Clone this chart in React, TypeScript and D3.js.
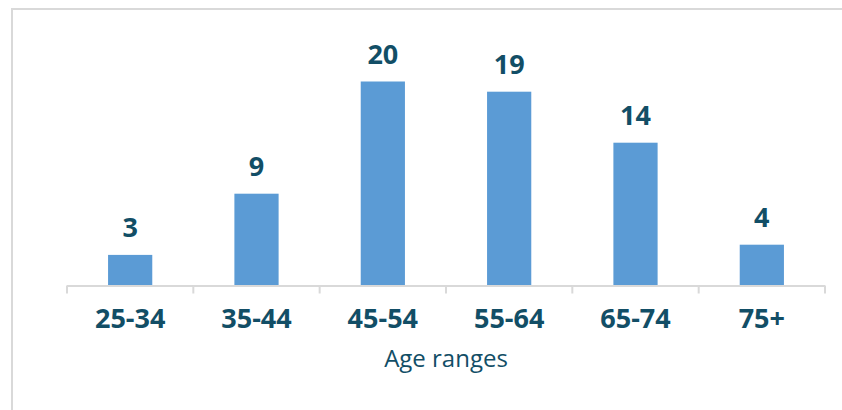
import React from "react";
import * as d3 from "d3";

const categories = ["25-34", "35-44", "45-54", "55-64", "65-74", "75+"];
const counts = [3, 9, 20, 19, 14, 4];
const axisTitle = "Age ranges";

const W = 842;
const H = 410;
const textColor = "#124e66";
const barColor = "#5b9bd5";
const gridColor = "#d9d9d9";
const font = "'Open Sans', 'DejaVu Sans', sans-serif";

export default function App() {
  const x = d3.scaleBand<string>().domain(categories).range([67, 825]).paddingInner(0.65).paddingOuter(0.325);
  const band = d3.scaleBand<string>().domain(categories).range([67, 825]);
  const y = d3.scaleLinear().domain([0, 20]).range([285.5, 81.5]);

  return (
    <svg width={W} height={H} style={{ position: "fixed", left: 0, top: 0, background: "#fff" }}>
      <rect x={12} y={9} width={W + 20} height={H + 20} fill="#fff" stroke={gridColor} strokeWidth={2} />
      <g>
        {categories.map((c, i) => (
          <g key={c}>
            <rect x={x(c)} y={y(counts[i])} width={x.bandwidth()} height={y(0) - y(counts[i])} fill={barColor} />
            <text
              x={(x(c) as number) + x.bandwidth() / 2}
              y={y(counts[i]) - 18}
              textAnchor="middle"
              fontFamily={font}
              fontWeight="bold"
              fontSize={27}
              fill={textColor}
            >
              {counts[i]}
            </text>
            <text
              x={(band(c) as number) + band.bandwidth() / 2}
              y={327.5}
              textAnchor="middle"
              fontFamily={font}
              fontWeight="bold"
              fontSize={27}
              fill={textColor}
            >
              {c}
            </text>
          </g>
        ))}
      </g>
      <line x1={67} x2={825} y1={y(0) + 0.5} y2={y(0) + 0.5} stroke={gridColor} strokeWidth={2} />
      {categories.concat([""]).map((c, i) => {
        const tx = i < categories.length ? (band(c) as number) : 825;
        return <line key={"t" + i} x1={tx} x2={tx} y1={y(0)} y2={y(0) + 8} stroke={gridColor} strokeWidth={2} />;
      })}
      <text x={446} y={366.5} textAnchor="middle" fontFamily={font} fontSize={24} fill={textColor}>
        {axisTitle}
      </text>
    </svg>
  );
}
